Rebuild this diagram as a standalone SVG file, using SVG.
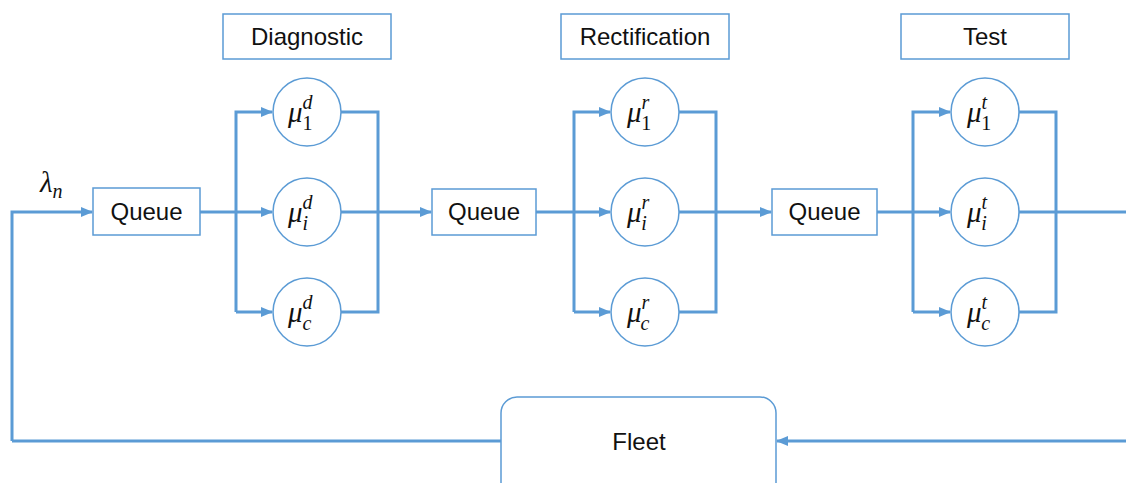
<svg xmlns="http://www.w3.org/2000/svg" width="1126" height="483" viewBox="0 0 1126 483">
<defs>
<marker id="ah" markerWidth="12" markerHeight="10" refX="11" refY="5" orient="auto" markerUnits="userSpaceOnUse">
<path d="M0,0 L12,5 L0,10 Z" fill="#5B9BD5"/>
</marker>
<style>
.box{fill:#fff;stroke:#5B9BD5;stroke-width:1.5}
.ln{fill:none;stroke:#5B9BD5;stroke-width:3}
.lbl{font-family:"Liberation Sans",Arial,sans-serif;font-size:24px;fill:#111;text-anchor:middle}
.mu{font-family:"Liberation Serif","DejaVu Serif",serif;font-style:italic;font-size:29px;fill:#111}
.sc{font-size:20px}
.up{font-style:normal}
</style>
</defs>
<rect width="1126" height="483" fill="#fff"/>
<g id="connectors">
<path class="ln" d="M12,441 L12,212 L92,212" marker-end="url(#ah)"/>
<path class="ln" d="M200,212 L272,212" marker-end="url(#ah)"/>
<path class="ln" d="M236,312 L236,112 L272,112" marker-end="url(#ah)"/>
<path class="ln" d="M236,312 L272,312" marker-end="url(#ah)"/>
<path class="ln" d="M341,112 L378,112 L378,312 L341,312"/>
<path class="ln" d="M341,212 L431,212" marker-end="url(#ah)"/>
<path class="ln" d="M536,212 L610,212" marker-end="url(#ah)"/>
<path class="ln" d="M574,312 L574,112 L610,112" marker-end="url(#ah)"/>
<path class="ln" d="M574,312 L610,312" marker-end="url(#ah)"/>
<path class="ln" d="M679,112 L716,112 L716,312 L679,312"/>
<path class="ln" d="M679,212 L771,212" marker-end="url(#ah)"/>
<path class="ln" d="M877,212 L950,212" marker-end="url(#ah)"/>
<path class="ln" d="M913,312 L913,112 L950,112" marker-end="url(#ah)"/>
<path class="ln" d="M913,312 L950,312" marker-end="url(#ah)"/>
<path class="ln" d="M1019,112 L1056,112 L1056,312 L1019,312"/>
<path class="ln" d="M1019,212 L1126,212"/>
<path class="ln" d="M1126,441 L777,441" marker-end="url(#ah)"/>
<path class="ln" d="M12,441 L501,441"/>
</g>
<g id="lambda"><text class="mu" x="40" y="192">λ<tspan class="sc" dy="6">n</tspan></text></g>
<g id="queue1"><rect class="box" x="93" y="188" width="107" height="47"/><text class="lbl" x="146.5" y="220">Queue</text></g>
<g id="queue2"><rect class="box" x="432" y="189" width="104" height="46"/><text class="lbl" x="484" y="220">Queue</text></g>
<g id="queue3"><rect class="box" x="772" y="189" width="105" height="46"/><text class="lbl" x="824.5" y="220">Queue</text></g>
<g id="title-diagnostic"><rect class="box" x="223" y="14" width="168" height="45"/><text class="lbl" x="307" y="45">Diagnostic</text></g>
<g id="title-rectification"><rect class="box" x="561" y="14" width="168" height="45"/><text class="lbl" x="645" y="45">Rectification</text></g>
<g id="title-test"><rect class="box" x="901" y="14" width="168" height="45"/><text class="lbl" x="985" y="45">Test</text></g>
<g id="mu-d-1"><circle class="box" cx="307" cy="112" r="34"/><text class="mu" x="288" y="122">μ<tspan class="sc" dy="-13">d</tspan><tspan class="sc up" dx="-10" dy="21">1</tspan></text></g>
<g id="mu-d-i"><circle class="box" cx="307" cy="212" r="34"/><text class="mu" x="288" y="222">μ<tspan class="sc" dy="-13">d</tspan><tspan class="sc" dx="-10" dy="21">i</tspan></text></g>
<g id="mu-d-c"><circle class="box" cx="307" cy="312" r="34"/><text class="mu" x="288" y="322">μ<tspan class="sc" dy="-13">d</tspan><tspan class="sc" dx="-10" dy="21">c</tspan></text></g>
<g id="mu-r-1"><circle class="box" cx="645" cy="112" r="34"/><text class="mu" x="627" y="122">μ<tspan class="sc" dy="-13">r</tspan><tspan class="sc up" dx="-8" dy="21">1</tspan></text></g>
<g id="mu-r-i"><circle class="box" cx="645" cy="212" r="34"/><text class="mu" x="627" y="222">μ<tspan class="sc" dy="-13">r</tspan><tspan class="sc" dx="-8" dy="21">i</tspan></text></g>
<g id="mu-r-c"><circle class="box" cx="645" cy="312" r="34"/><text class="mu" x="627" y="322">μ<tspan class="sc" dy="-13">r</tspan><tspan class="sc" dx="-8" dy="21">c</tspan></text></g>
<g id="mu-t-1"><circle class="box" cx="985" cy="112" r="34"/><text class="mu" x="967" y="122">μ<tspan class="sc" dy="-13">t</tspan><tspan class="sc up" dx="-6" dy="21">1</tspan></text></g>
<g id="mu-t-i"><circle class="box" cx="985" cy="212" r="34"/><text class="mu" x="967" y="222">μ<tspan class="sc" dy="-13">t</tspan><tspan class="sc" dx="-6" dy="21">i</tspan></text></g>
<g id="mu-t-c"><circle class="box" cx="985" cy="312" r="34"/><text class="mu" x="967" y="322">μ<tspan class="sc" dy="-13">t</tspan><tspan class="sc" dx="-6" dy="21">c</tspan></text></g>
<g id="fleet"><rect class="box" x="501" y="397" width="275" height="110" rx="16"/><text class="lbl" x="639" y="450">Fleet</text></g>
</svg>
